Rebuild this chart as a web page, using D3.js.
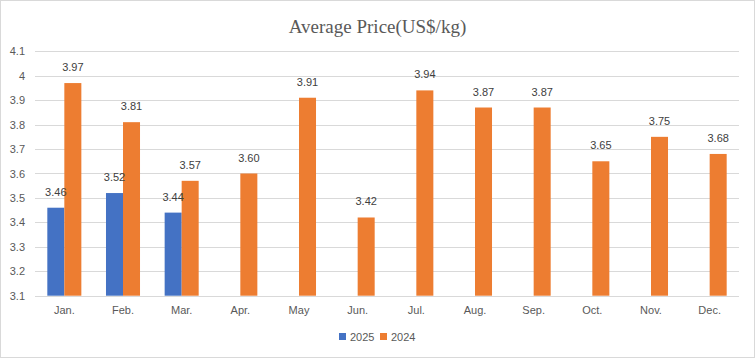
<!DOCTYPE html>
<html><head><meta charset="utf-8">
<script src="https://cdn.jsdelivr.net/npm/d3@7"></script>
<style>html,body{margin:0;padding:0;background:#fff;}svg{display:block;}</style>
</head><body>
<svg id="chart" width="755" height="358"></svg>
<script>
const months = ["Jan.","Feb.","Mar.","Apr.","May","Jun.","Jul.","Aug.","Sep.","Oct.","Nov.","Dec."];
const series = ["2025","2024"];
const values2025 = [3.46,3.52,3.44,null,null,null,null,null,null,null,null,null];
const values2024 = [3.97,3.81,3.57,3.60,3.91,3.42,3.94,3.87,3.87,3.65,3.75,3.68];
const yTicks = [3.1,3.2,3.3,3.4,3.5,3.6,3.7,3.8,3.9,4.0,4.1];
const colors = {"2025":"#4472C4","2024":"#ED7D31"};
const title = "Average Price(US$/kg)";

const svg = d3.select("#chart");
const W = 755, H = 358;
svg.append("rect").attr("x",0.5).attr("y",0.5).attr("width",W-1).attr("height",H-1)
  .attr("fill","#fff").attr("stroke","#d9d9d9");

const m = {left:35, right:16, top:51.3, bottom:62.3};
const x = d3.scaleBand().domain(months).range([m.left, W-m.right]).paddingInner(0.42).paddingOuter(0.21);
const xs = d3.scaleBand().domain(series).range([0, x.bandwidth()]);
const y = d3.scaleLinear().domain([3.1,4.1]).range([H-m.bottom, m.top]);

// gridlines
svg.append("g").selectAll("line").data(yTicks).join("line")
  .attr("x1", m.left).attr("x2", W-m.right)
  .attr("y1", d=>Math.round(y(d))+0.5).attr("y2", d=>Math.round(y(d))+0.5)
  .attr("stroke","#d9d9d9").attr("stroke-width",1);

// y axis labels
const yAxis = d3.axisLeft(y).tickValues(yTicks).tickFormat(d=>String(+d.toFixed(1))).tickSize(0).tickPadding(0);
const ya = svg.append("g").attr("transform",`translate(${m.left-10},0)`).call(yAxis);
ya.select(".domain").remove();
ya.selectAll("text").attr("fill","#595959").style("font-family","'Liberation Sans', Arial, sans-serif").style("font-size","11px");

// x axis labels
const xAxis = d3.axisBottom(x).tickSize(0).tickPadding(0);
const xa = svg.append("g").attr("transform",`translate(0,${H-m.bottom+10})`).call(xAxis);
xa.select(".domain").remove();
xa.selectAll("text").attr("fill","#595959").style("font-family","'Liberation Sans', Arial, sans-serif").style("font-size","11px");

const data = [];
months.forEach((mo,i)=>{
  data.push({m:mo, s:"2025", v:values2025[i]});
  data.push({m:mo, s:"2024", v:values2024[i]});
});
const valid = data.filter(d=>d.v!=null);

svg.append("g").selectAll("rect").data(valid).join("rect")
  .attr("x", d=>x(d.m)+xs(d.s))
  .attr("width", xs.bandwidth())
  .attr("y", d=>y(d.v))
  .attr("height", d=>y(3.1)-y(d.v))
  .attr("fill", d=>colors[d.s]);

svg.append("g").selectAll("text").data(valid).join("text")
  .attr("x", d=>x(d.m)+xs(d.s)+xs.bandwidth()/2)
  .attr("y", d=>y(d.v)-12)
  .attr("text-anchor","middle")
  .attr("fill","#404040")
  .style("font-family","'Liberation Sans', Arial, sans-serif").style("font-size","11px")
  .text(d=>d.v.toFixed(2));

svg.append("text").attr("x", W/2).attr("y", 33).attr("text-anchor","middle")
  .attr("fill","#595959").style("font-family","'Liberation Serif', 'Times New Roman', serif").style("font-size","19px")
  .text(title);

// legend
const lg = svg.append("g").attr("transform","translate(339,338)");
const items = [{s:"2025",x:0},{s:"2024",x:41}];
items.forEach(it=>{
  lg.append("rect").attr("x",it.x).attr("y",-5).attr("width",7).attr("height",7).attr("fill",colors[it.s]);
  lg.append("text").attr("x",it.x+11).attr("y",3).attr("fill","#595959")
    .style("font-family","'Liberation Sans', Arial, sans-serif").style("font-size","11px").text(it.s);
});
</script>
</body></html>
